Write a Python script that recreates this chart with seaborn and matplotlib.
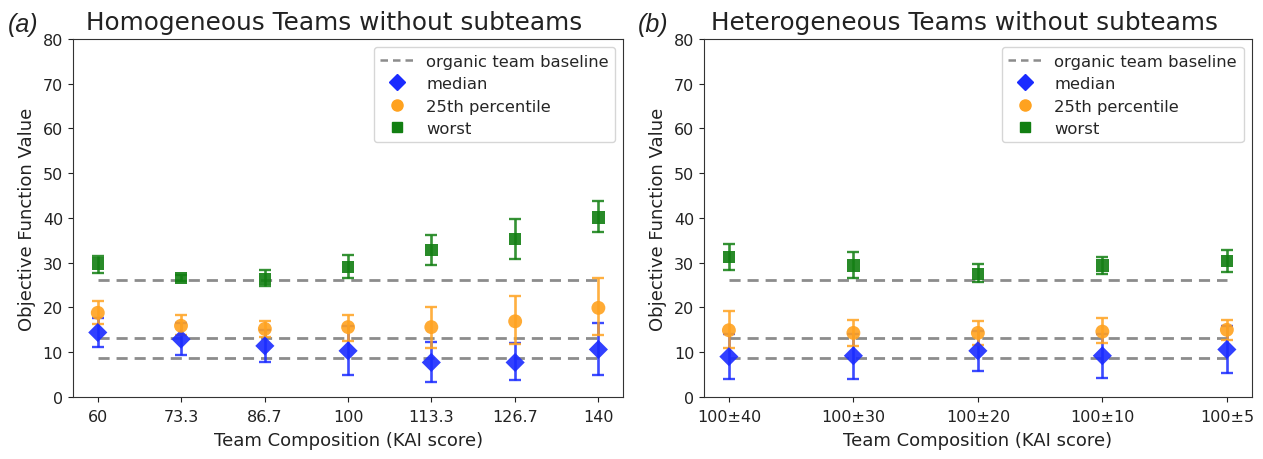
import numpy as np
import pandas as pd
import matplotlib
matplotlib.use("Agg")
import matplotlib.pyplot as plt
import seaborn as sns
from matplotlib.lines import Line2D

# ---------------- data ----------------
homo_x = [60, 73.3, 86.7, 100, 113.3, 126.7, 140]
homo_tick_labels = ["60", "73.3", "86.7", "100", "113.3", "126.7", "140"]
homo_median = [14.4, 12.9, 11.4, 10.3, 7.7, 7.7, 10.6]
homo_median_lo = [11.1, 9.3, 7.8, 4.8, 3.4, 3.8, 4.8]
homo_median_hi = [17.7, 16.5, 15.0, 15.8, 12.2, 12.0, 16.6]
homo_p25 = [18.8, 15.9, 15.2, 15.6, 15.6, 16.9, 19.9]
homo_p25_lo = [16.2, 13.8, 13.4, 12.5, 11.0, 11.9, 13.8]
homo_p25_hi = [21.4, 18.2, 17.0, 18.2, 20.0, 22.6, 26.6]
homo_worst = [29.8, 26.6, 26.4, 29.1, 32.8, 35.3, 40.1]
homo_worst_lo = [27.6, 25.9, 24.7, 26.6, 29.4, 30.9, 36.9]
homo_worst_hi = [31.6, 27.3, 28.4, 31.7, 36.1, 39.8, 43.9]

hetero_labels = ["100±40", "100±30", "100±20", "100±10", "100±5"]
hetero_median = [9.0, 9.2, 10.3, 9.2, 10.6]
hetero_median_lo = [4.1, 4.1, 5.8, 4.3, 5.4]
hetero_median_hi = [14.0, 14.0, 14.8, 14.0, 15.8]
hetero_p25 = [14.9, 14.3, 14.3, 14.6, 15.0]
hetero_p25_lo = [11.0, 11.3, 11.7, 12.0, 12.8]
hetero_p25_hi = [19.1, 17.2, 16.9, 17.6, 17.2]
hetero_worst = [31.3, 29.4, 27.5, 29.4, 30.4]
hetero_worst_lo = [28.3, 26.5, 25.7, 27.5, 27.9]
hetero_worst_hi = [34.2, 32.4, 29.8, 31.3, 32.8]

baselines = [26.2, 13.1, 8.6]

titles = ["Homogeneous Teams without subteams", "Heterogeneous Teams without subteams"]
panel_labels = ["(a)", "(b)"]
series_names = ["median", "25th percentile", "worst"]

# ---------------- style ----------------
sns.set_style("ticks")
plt.rcParams["font.family"] = ["DejaVu Sans"]
plt.rcParams["axes.edgecolor"] = "#333333"

col_median = "#1a2bff"
col_p25 = "#ffa21f"
col_worst = "#127f12"
col_base = "#8c8c8c"
markers = {"median": "D", "25th percentile": "o", "worst": "s"}
colors = {"median": col_median, "25th percentile": col_p25, "worst": col_worst}
msizes = {"median": 95, "25th percentile": 100, "worst": 80}

fig = plt.figure(figsize=(12.63, 4.6), dpi=100)
ax1 = fig.add_axes([0.0576, 0.135, 0.436, 0.778])
ax2 = fig.add_axes([0.5574, 0.135, 0.4337, 0.778])


def draw(ax, x, series, title, tick_labels):
    xs = list(x)
    for b in baselines:
        bdf = pd.DataFrame({"x": [xs[0], xs[-1]], "y": [b, b]})
        sns.lineplot(data=bdf, x="x", y="y", ax=ax, color=col_base, lw=2,
                     linestyle=(0, (4, 2.5)), zorder=1, legend=False)
    for name, (vals, lo, hi) in zip(series_names, series):
        vals = np.array(vals)
        yerr = np.vstack([vals - np.array(lo), np.array(hi) - vals])
        ax.errorbar(xs, vals, yerr=yerr, fmt="none", ecolor=colors[name],
                    elinewidth=1.9, capsize=4, capthick=1.7, alpha=0.85, zorder=2)
        df = pd.DataFrame({"x": xs, "y": vals})
        sns.scatterplot(data=df, x="x", y="y", ax=ax, marker=markers[name],
                        color=colors[name], s=msizes[name], edgecolor="none",
                        alpha=0.9, zorder=3, legend=False)
    ax.set_ylim(0, 80)
    ax.set_yticks(range(0, 81, 10))
    ax.set_xticks(xs)
    ax.set_xticklabels(tick_labels)
    ax.tick_params(labelsize=11.5, colors="#222222")
    ax.tick_params(axis="x", pad=5)
    ax.set_xlabel("Team Composition (KAI score)", fontsize=13, color="#222222", labelpad=5)
    ax.set_ylabel("Objective Function Value", fontsize=13, color="#222222", labelpad=5)
    ax.set_title(title, fontsize=17.8, color="#222222", pad=7, x=0.475)
    for s in ax.spines.values():
        s.set_visible(True)
    handles = [Line2D([0], [0], color=col_base, lw=1.8, linestyle=(0, (3, 2))),
               Line2D([0], [0], marker="D", color=col_median, lw=0, markersize=8),
               Line2D([0], [0], marker="o", color=col_p25, lw=0, markersize=8),
               Line2D([0], [0], marker="s", color=col_worst, lw=0, markersize=7)]
    ax.legend(handles, ["organic team baseline"] + series_names, loc="upper right",
              fontsize=11.8, frameon=True, handlelength=2.0, borderpad=0.4,
              labelspacing=0.45)


draw(ax1, homo_x,
     [(homo_median, homo_median_lo, homo_median_hi),
      (homo_p25, homo_p25_lo, homo_p25_hi),
      (homo_worst, homo_worst_lo, homo_worst_hi)],
     titles[0], homo_tick_labels)
ax1.set_xlim(56, 144)

draw(ax2, range(len(hetero_labels)),
     [(hetero_median, hetero_median_lo, hetero_median_hi),
      (hetero_p25, hetero_p25_lo, hetero_p25_hi),
      (hetero_worst, hetero_worst_lo, hetero_worst_hi)],
     titles[1], hetero_labels)
ax2.set_xlim(-0.2, 4.2)

fig.text(0.006, 0.93, panel_labels[0], fontsize=18, style="italic",
         family=["Liberation Sans", "DejaVu Sans"], color="#222222")
fig.text(0.505, 0.93, panel_labels[1], fontsize=18, style="italic",
         family=["Liberation Sans", "DejaVu Sans"], color="#222222")

fig.savefig("out.png", dpi=100)
